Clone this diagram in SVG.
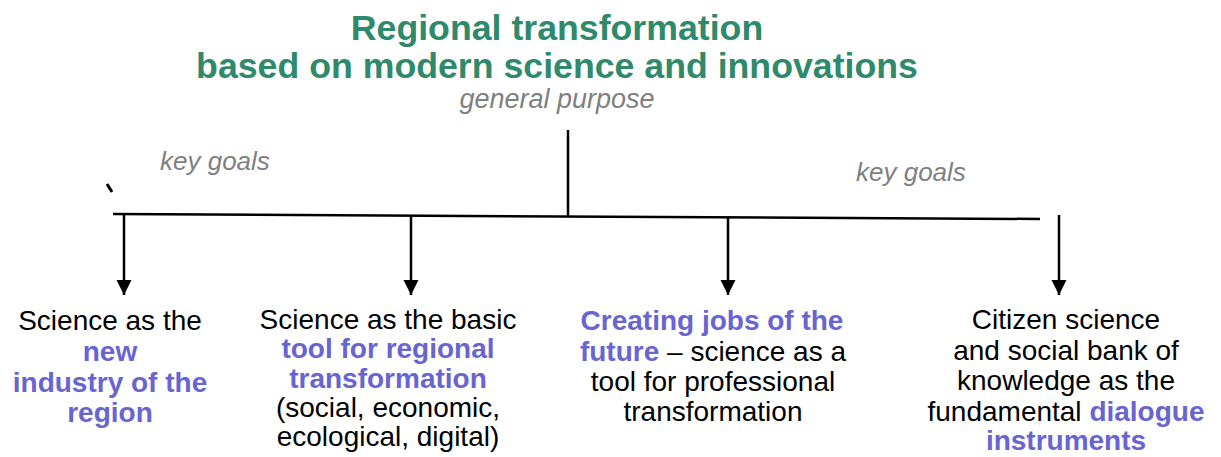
<svg xmlns="http://www.w3.org/2000/svg" width="1221" height="457" viewBox="0 0 1221 457">
  <defs>
    <marker id="arr" markerUnits="userSpaceOnUse" markerWidth="16" markerHeight="16" refX="15" refY="7.5" orient="auto">
      <path d="M0,0 L15,7.5 L0,15 Z" fill="#000"/>
    </marker>
    <style>
      .title { font-family: "Liberation Sans", Arial, sans-serif; font-weight: bold; font-size: 35.7px; fill: #2f8a6b; text-anchor: middle; }
      .sub { font-family: "Liberation Sans", Arial, sans-serif; font-style: italic; font-size: 27px; fill: #808080; text-anchor: middle; }
      .kg { font-family: "Liberation Sans", Arial, sans-serif; font-style: italic; font-size: 26px; fill: #808080; }
      .node { font-family: "Liberation Sans", Arial, sans-serif; font-size: 28px; fill: #000; text-anchor: middle; }
      .hl { font-weight: bold; fill: #6864d0; }
      .ln { stroke: #000; stroke-width: 2.5; fill: none; }
    </style>
  </defs>
  <rect width="1221" height="457" fill="#fff"/>

  <g id="title">
    <text class="title" x="557" y="40">Regional transformation</text>
    <text class="title" x="557" y="78">based on modern science and innovations</text>
    <text class="sub" x="557" y="108">general purpose</text>
  </g>

  <g id="labels">
    <text class="kg" x="160" y="170">key goals</text>
    <text class="kg" x="856" y="181">key goals</text>
    <path d="M107,184 L112,192" stroke="#000" stroke-width="3" fill="none"/>
  </g>

  <g id="connectors">
    <line class="ln" x1="568" y1="130" x2="568" y2="216"/>
    <line class="ln" x1="113" y1="214" x2="1040" y2="219"/>
    <line class="ln" x1="124" y1="215" x2="124" y2="295" marker-end="url(#arr)"/>
    <line class="ln" x1="411" y1="216" x2="411" y2="295" marker-end="url(#arr)"/>
    <line class="ln" x1="728" y1="217" x2="728" y2="295" marker-end="url(#arr)"/>
    <line class="ln" x1="1059" y1="215" x2="1059" y2="295" marker-end="url(#arr)"/>
  </g>

  <g id="node1">
    <text class="node" x="110" y="330">Science as the</text>
    <text class="node hl" x="110" y="361">new</text>
    <text class="node hl" x="110" y="392">industry of the</text>
    <text class="node hl" x="110" y="422">region</text>
  </g>

  <g id="node2">
    <text class="node" x="388" y="329">Science as the basic</text>
    <text class="node hl" x="388" y="358">tool for regional</text>
    <text class="node hl" x="388" y="388">transformation</text>
    <text class="node" x="388" y="417">(social, economic,</text>
    <text class="node" x="388" y="446">ecological, digital)</text>
  </g>

  <g id="node3">
    <text class="node hl" x="712" y="330">Creating jobs of the</text>
    <text class="node" x="713" y="361"><tspan class="hl">future</tspan> – science as a</text>
    <text class="node" x="713" y="391">tool for professional</text>
    <text class="node" x="713" y="421">transformation</text>
  </g>

  <g id="node4">
    <text class="node" x="1066" y="329">Citizen science</text>
    <text class="node" x="1066" y="359.5">and social bank of</text>
    <text class="node" x="1066" y="390">knowledge as the</text>
    <text class="node" x="1066" y="420.5">fundamental <tspan class="hl">dialogue</tspan></text>
    <text class="node hl" x="1066" y="450">instruments</text>
  </g>
</svg>
